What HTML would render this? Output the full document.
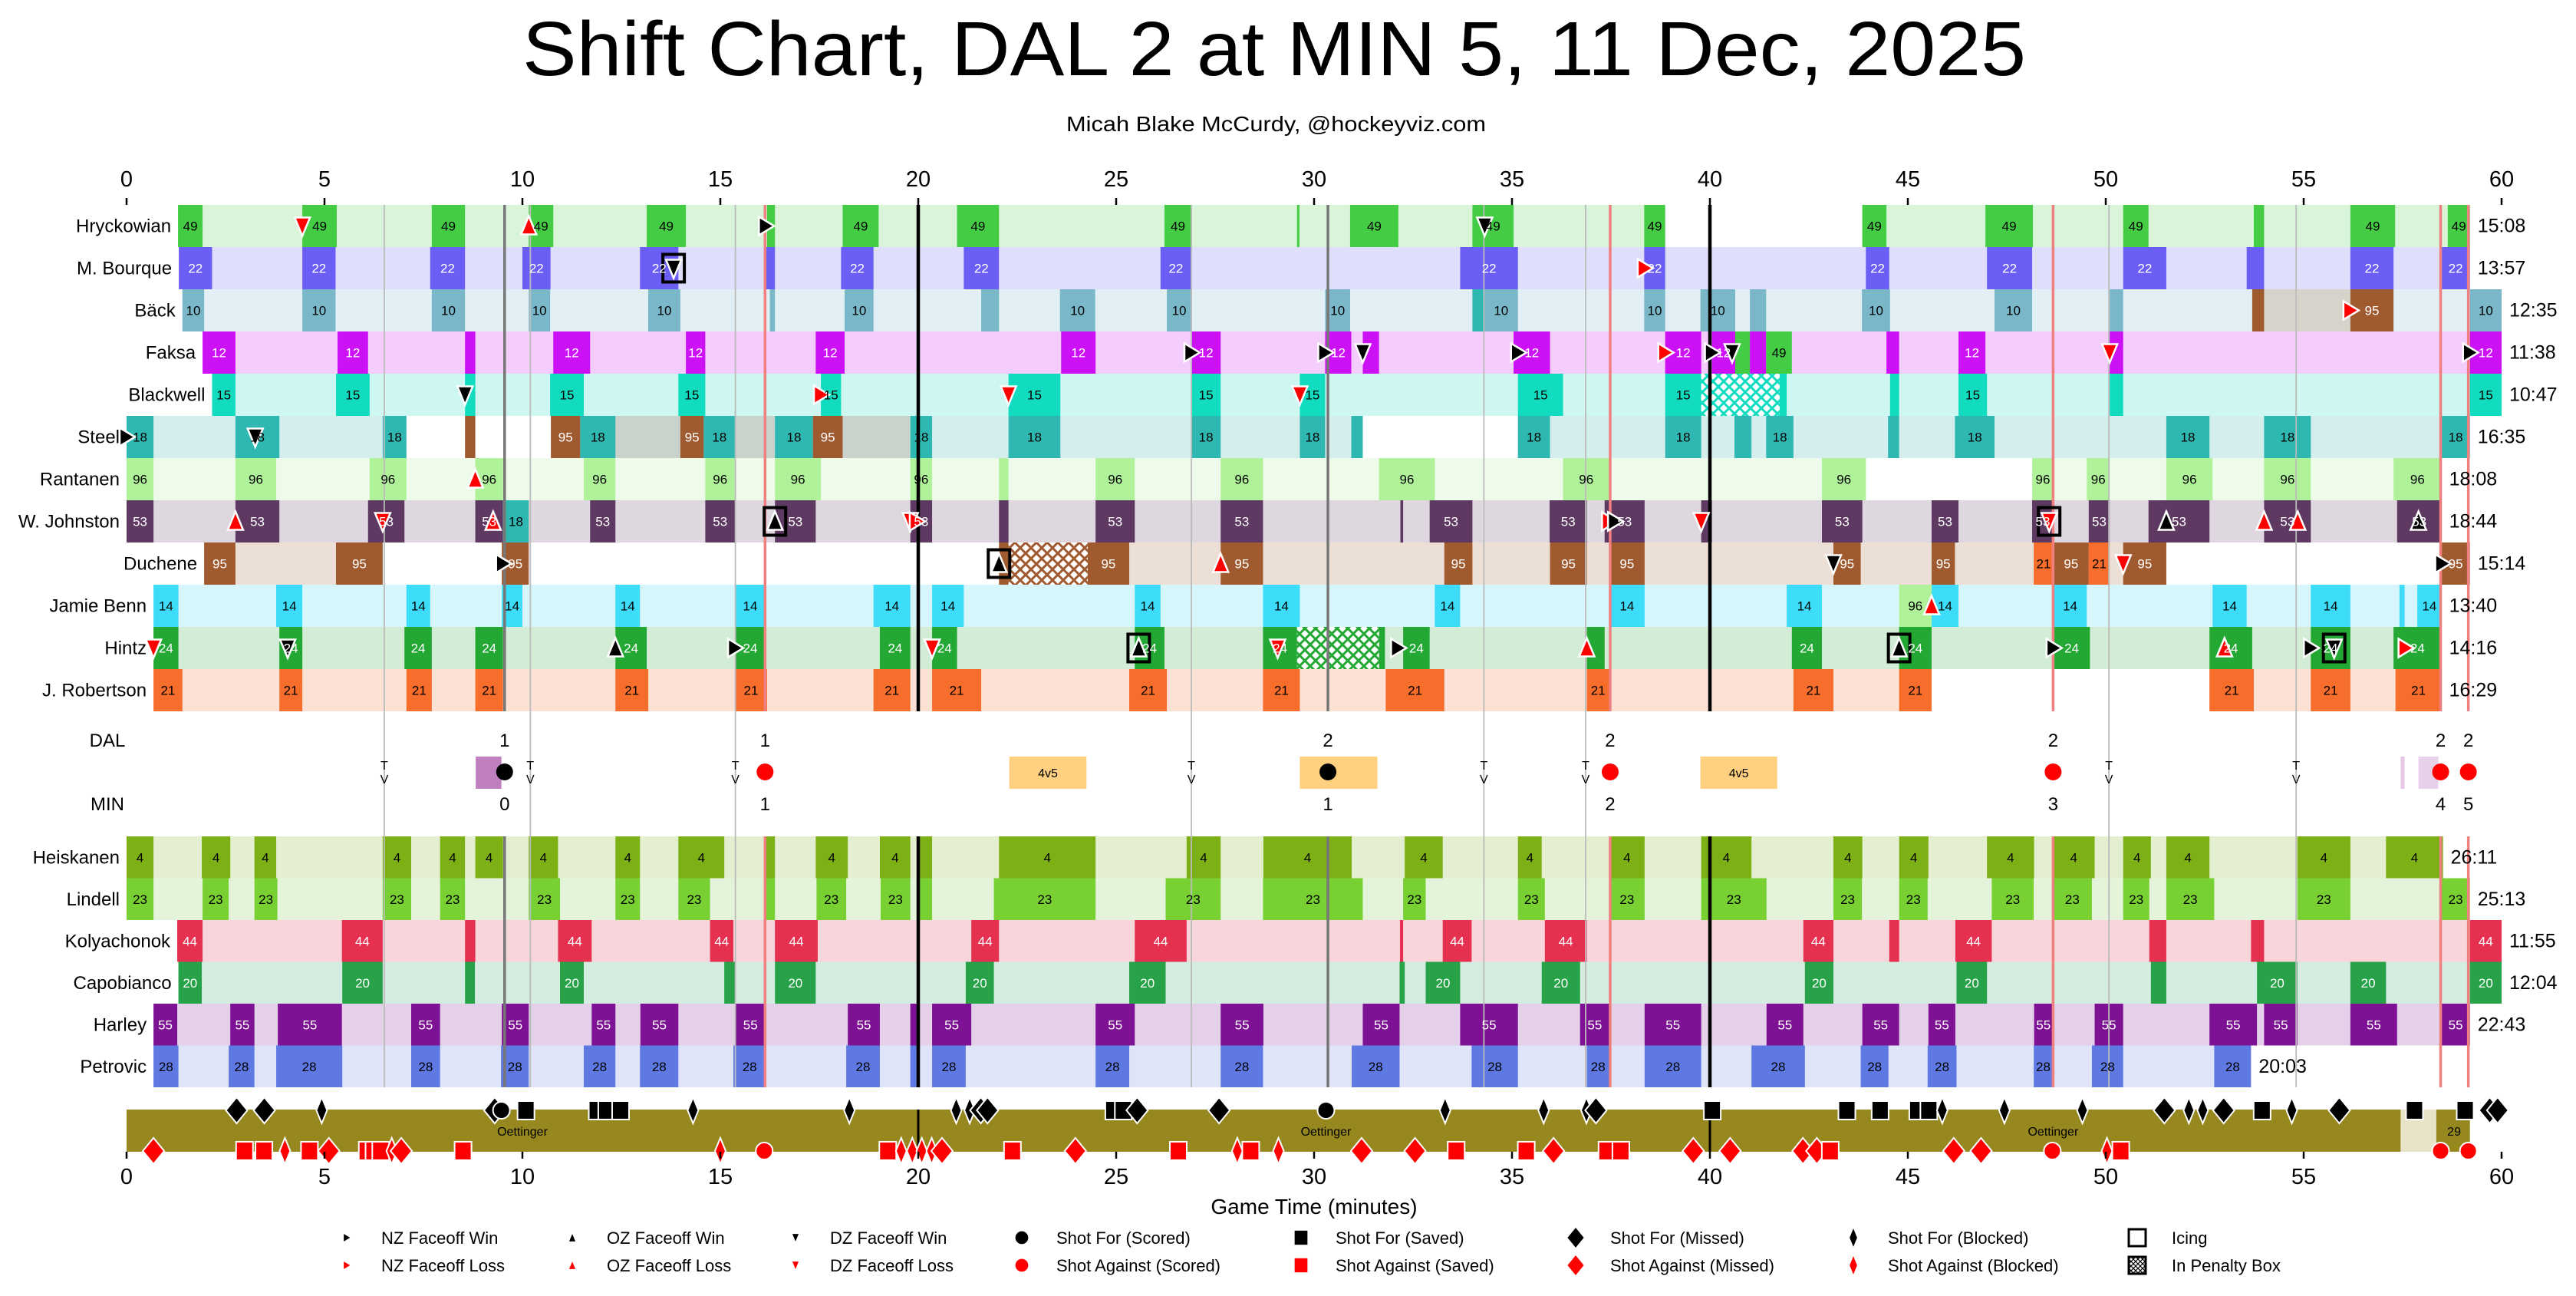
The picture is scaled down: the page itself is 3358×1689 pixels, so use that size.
<!DOCTYPE html>
<html><head><meta charset="utf-8"><style>
html,body{margin:0;padding:0;background:#fff}
svg{display:block;font-family:"Liberation Sans","DejaVu Sans",sans-serif}
</style></head><body>
<svg id="chart" xmlns="http://www.w3.org/2000/svg" width="3358" height="1689" viewBox="0 0 3358 1689">
<defs>
<pattern id="hatch95" patternUnits="userSpaceOnUse" width="14" height="14"><rect width="14" height="14" fill="#fff"/><path d="M0,0L14,14M14,0L0,14" stroke="#a05a30" stroke-width="3"/></pattern>
<pattern id="hatch15" patternUnits="userSpaceOnUse" width="14" height="14"><rect width="14" height="14" fill="#fff"/><path d="M0,0L14,14M14,0L0,14" stroke="#12dcc0" stroke-width="3"/></pattern>
<pattern id="hatch24" patternUnits="userSpaceOnUse" width="14" height="14"><rect width="14" height="14" fill="#fff"/><path d="M0,0L14,14M14,0L0,14" stroke="#22a833" stroke-width="3"/></pattern>
<pattern id="hatchK" patternUnits="userSpaceOnUse" width="6" height="6"><rect width="6" height="6" fill="#fff"/><path d="M0,0L6,6M6,0L0,6" stroke="#000" stroke-width="1.2"/></pattern>
</defs>
<text x="681" y="98" font-size="100" textLength="1960" lengthAdjust="spacingAndGlyphs">Shift Chart, DAL 2 at MIN 5, 11 Dec, 2025</text>
<text x="1390" y="171" font-size="28" textLength="547" lengthAdjust="spacingAndGlyphs">Micah Blake McCurdy, @hockeyviz.com</text>
<g id="g-bg"></g><g id="g-shift"></g><g id="g-lines"></g><g id="g-marks"></g><g id="g-text"></g><g id="g-legend"></g>
</svg>
<script>
const tickMinutes=[0,5,10,15,20,25,30,35,40,45,50,55,60];
const colorOf={49:["#44cc44","#d9f4d9","#000"],22:["#6a5ef5","#dfdefb","#fff"],10:["#7ab8c9","#e2eff4","#000"],12:["#cc11f5","#f4cdfc","#fff"],15:["#12dcc0","#cdf7f0","#000"],18:["#2fb8b2","#d4eeee","#000"],96:["#b0f29a","#eefaea","#000"],53:["#5e3a63","#dfd7df","#fff"],95:["#a05a30","#ecdfd6","#fff"],14:["#3ddcf8","#d6f6fc","#000"],24:["#22a833","#d3ecd5","#fff"],21:["#f76d2c","#fde1d5","#000"],4:["#7db015","#e4efd2","#000"],23:["#78d033","#e4f4da","#000"],44:["#e5304f","#f8d5db","#fff"],20:["#27a248","#d5ede0","#fff"],55:["#7d1394","#e5d0e9","#fff"],28:["#5f79e3","#dfe4f9","#000"]};
const dalNames=["Hryckowian","M. Bourque","Bäck","Faksa","Blackwell","Steel","Rantanen","W. Johnston","Duchene","Jamie Benn","Hintz","J. Robertson"];
const dalNumbers=[49,22,10,12,15,18,96,53,95,14,24,21];
const dalTOI=["15:08","13:57","12:35","11:38","10:47","16:35","18:08","18:44","15:14","13:40","14:16","16:29"];
const dalShifts=[
[[1.30,1.92],[4.44,5.31],[7.71,8.55],[10.16,10.78],[13.14,14.13],[16.18,16.38],[18.09,19.0],[20.98,22.04],[26.22,26.90],[29.57,29.63],[30.91,32.13],[34.0,35.04],[38.34,38.87],[43.85,44.46],[46.96,48.16],[50.44,51.08],[53.74,54.0],[56.18,57.31],[58.64,59.2]],
[[1.32,2.16],[4.44,5.28],[7.67,8.55],[10.0,10.71],[12.97,13.94],[16.14,16.38],[18.05,18.87],[21.15,22.04],[26.12,26.90],[33.69,35.15],[38.34,38.87],[43.94,44.53],[47.0,48.14],[50.44,51.53],[53.56,54.0],[56.18,57.27],[58.48,59.2]],
[[1.41,1.96],[4.44,5.28],[7.71,8.55],[10.16,10.70],[13.18,13.99],[16.25,16.38],[18.14,18.87],[21.59,22.04],[23.58,24.47],[26.28,26.90],[30.28,30.91],[34.0,34.30,18],[34.30,35.15],[38.34,38.87],[39.76,40.64],[41.01,41.42],[43.84,44.55],[47.19,48.14],[50.1,50.44],[53.7,54.0,95],[56.18,57.27,95],[59.2,60.0]],
[[1.92,2.75],[5.33,6.10],[8.55,8.81],[10.78,11.71],[14.13,14.62],[17.41,18.14],[23.61,24.48],[26.90,27.64],[30.28,30.94],[31.23,31.64],[35.04,35.96],[38.87,39.78],[40.05,40.64],[40.64,41.01,49],[41.01,41.42],[41.42,42.07,49],[44.46,44.78],[46.28,46.96],[50.1,50.44],[59.2,60.0]],
[[2.16,2.75],[5.29,6.14],[8.55,8.81],[10.70,11.55],[13.94,14.62],[17.54,18.05],[22.28,23.59],[26.90,27.64],[29.64,30.28],[35.15,36.29],[38.87,39.78],[41.76,41.94],[44.55,44.78],[46.28,47.0],[50.1,50.44],[59.2,60.0]],
[[0,0.68],[2.75,3.86],[6.47,7.07],[8.55,8.81,95],[10.72,11.46,95],[11.46,12.35],[13.99,14.58,95],[14.58,15.37],[16.38,17.34],[17.34,18.09,95],[19.8,20.35],[22.28,23.59],[26.90,27.64],[29.64,30.28],[30.94,31.23],[35.15,35.96],[38.87,39.78],[40.62,41.05],[41.42,42.11],[44.5,44.78],[46.19,47.19],[51.53,52.62],[54.0,55.18],[58.48,59.2]],
[[0,0.68],[2.75,3.78],[6.14,7.07],[8.81,9.51],[11.55,12.35],[14.62,15.37],[16.38,17.54],[19.8,20.35],[22.04,22.28],[24.48,25.47],[27.64,28.71],[31.64,33.05],[36.29,37.46],[42.83,43.94],[48.14,48.68],[49.52,50.1],[51.53,52.7],[54.0,55.18],[57.27,58.48]],
[[0,0.68],[2.75,3.86],[6.10,7.02],[8.81,9.51],[9.51,10.16,18],[11.71,12.35],[14.62,15.37],[16.38,17.41],[19.8,20.35],[22.04,22.28],[24.48,25.47],[27.64,28.71],[32.18,32.25],[32.92,34.0],[35.95,36.89],[37.34,38.35],[39.78,40.05],[42.83,43.85],[45.6,46.28],[48.14,48.68],[49.57,50.1],[51.08,52.62],[54.0,55.18],[57.36,58.48]],
[[1.96,2.75],[5.29,6.47],[9.48,10.16],[22.04,22.28],[24.28,25.33],[27.64,28.71],[33.29,34.0],[35.96,36.89],[37.46,38.35],[43.12,43.81],[45.6,46.19],[48.18,48.68,21],[48.68,49.57],[49.57,50.1,21],[50.44,51.53],[58.48,59.2]],
[[0.68,1.31],[3.78,4.44],[7.07,7.67],[9.48,10.0],[12.35,12.97],[15.37,16.14],[18.87,19.8],[20.35,21.15],[25.47,26.12],[28.71,29.64],[33.05,33.69],[37.46,38.35],[41.94,42.83],[44.78,45.6,96],[45.6,46.28],[48.68,49.52],[52.7,53.56],[55.18,56.18],[57.42,57.55],[57.87,58.48]],
[[0.68,1.31],[3.86,4.44],[7.02,7.71],[8.81,9.51],[12.35,13.14],[15.37,16.14],[19.03,19.8],[20.35,20.98],[25.47,26.22],[28.71,29.57],[31.64,31.79],[32.25,32.92],[36.89,37.34],[42.07,42.83],[44.78,45.6],[48.68,49.6],[52.62,53.7],[55.18,56.18],[57.27,58.48]],
[[0.68,1.41],[3.86,4.44],[7.07,7.71],[8.81,9.51],[12.35,13.18],[15.37,16.18],[18.87,19.8],[20.35,21.59],[25.33,26.28],[28.71,29.64],[31.81,33.29],[36.89,37.46],[42.11,43.12],[44.78,45.6],[52.62,53.74],[55.18,56.18],[57.32,58.48]]
];
const dalBg=[
[[1.3,38.87],[43.85,59.2]],[[1.32,59.2]],[[1.41,53.7],[53.7,57.27,"#d6d3cb"],[57.27,59.2]],[[1.92,59.2]],[[2.16,59.2]],
[[0,7.07],[10.72,19.8,"#c9d3cc"],[19.8,31.23],[35.15,59.2]],[[0,43.94],[48.14,58.48]],[[0,58.48]],[[1.96,6.47],[22.04,51.53]],
[[0.68,58.48]],[[0.68,58.48]],[[0.68,45.6],[52.62,58.48]]
];
const penaltyBoxRow=[4,8,10];
const penaltyBoxStart=[39.78,22.28,29.57];
const penaltyBoxEnd=[41.76,24.28,31.64];
const minNames=["Heiskanen","Lindell","Kolyachonok","Capobianco","Harley","Petrovic"];
const minNumbers=[4,23,44,20,55,28];
const minTOI=["26:11","25:13","11:55","12:04","22:43","20:03"];
const minShifts=[
[[0,0.68],[1.9,2.62],[3.23,3.78],[6.47,7.19],[7.92,8.55],[8.81,9.51],[10.16,10.90],[12.35,12.97],[13.94,15.1],[16.12,16.38],[17.41,18.22],[19.03,19.8],[20.0,20.35],[22.04,24.48],[26.78,27.64],[28.72,30.95],[32.29,33.25],[35.15,35.75],[37.46,38.35],[39.78,41.05],[43.12,43.85],[44.78,45.52],[47.0,48.19],[48.66,49.72],[50.44,51.14],[51.53,52.62],[54.84,56.18],[57.08,58.52]],
[[0,0.68],[1.92,2.58],[3.23,3.81],[6.47,7.19],[7.92,8.55],[10.16,10.95],[12.35,12.97],[13.94,14.74],[16.12,16.38],[17.43,18.18],[19.05,19.8],[20.0,20.35],[21.91,24.48],[26.25,27.64],[28.71,31.23],[32.25,32.82],[35.15,35.83],[37.46,38.35],[39.78,41.43],[43.12,43.84],[44.78,45.5],[47.12,48.18],[48.66,49.65],[50.44,51.1],[51.53,52.74],[54.84,56.18],[58.48,59.2]],
[[1.28,1.92],[5.44,6.47],[8.55,8.81],[10.9,11.75],[14.74,15.33],[16.38,17.46],[21.34,22.04],[25.47,26.78],[32.17,32.25],[33.25,33.98],[35.83,36.89],[42.36,43.12],[44.53,44.78],[46.2,47.12],[51.1,51.53],[53.67,54.0],[59.2,60.0]],
[[1.31,1.9],[5.45,6.47],[8.55,8.80],[10.95,11.55],[15.1,15.37],[16.38,17.41],[21.2,21.91],[25.33,26.25],[32.16,32.29],[32.82,33.69],[35.75,36.72],[42.4,43.12],[46.23,47.0],[51.14,51.53],[53.82,54.84],[56.18,57.08],[59.2,60.0]],
[[0.68,1.28],[2.62,3.23],[3.82,5.44],[7.19,7.92],[9.48,10.16],[11.75,12.35],[12.98,13.94],[15.37,16.15],[18.22,19.03],[19.8,20.0],[20.35,21.34],[24.48,25.47],[27.64,28.72],[31.23,32.16],[33.69,35.15],[36.72,37.46],[38.35,39.78],[41.43,42.36],[43.85,44.78],[45.52,46.2],[48.19,48.66],[49.72,50.44],[52.62,53.82],[54.0,54.84],[56.18,57.36],[58.48,59.2]],
[[0.68,1.31],[2.58,3.23],[3.78,5.45],[7.19,7.92],[9.46,10.16],[11.55,12.35],[12.97,13.94],[15.33,16.15],[18.18,19.03],[19.8,20.0],[20.35,21.2],[24.48,25.33],[27.64,28.71],[30.95,32.16],[33.98,35.15],[36.89,37.46],[38.35,39.78],[41.05,42.4],[43.81,44.51],[45.5,46.23],[48.18,48.66],[49.65,50.44],[52.74,53.67]]
];
const minBg=[[[0,58.52]],[[0,59.2]],[[1.28,59.2]],[[1.31,59.2]],[[0.68,59.2]],[[0.68,53.67]]];
const foMinute=[4.44,10.16,16.15,13.82,8.55,17.54,0,3.25,8.81,2.75,6.47,9.26,16.38,19.8,19.96,9.51,0.68,4.07,12.35,15.37,20.35,34.31,38.35,26.9,30.28,31.23,35.15,38.87,40.05,40.56,22.28,29.64,37.45,37.6,39.78,22.04,27.64,20.35,25.57,29.08,32.12,36.89,56.18,50.1,59.2,48.57,51.53,54.0,54.85,57.9,43.12,50.44,58.5,45.6,44.78,48.68,53.0,55.18,55.77,57.57];
const foRow=[0,0,0,1,4,4,5,5,6,7,7,7,7,7,7,8,10,10,10,10,10,0,1,3,3,3,3,3,3,3,4,4,7,7,7,8,8,10,10,10,10,10,2,3,3,7,7,7,7,7,8,8,8,9,10,10,10,10,10,10];
const foZone=["D","O","N","D","D","N","N","D","O","O","D","O","O","D","N","N","D","D","O","N","D","D","N","N","N","D","N","N","N","D","D","D","N","N","D","O","O","D","O","D","N","O","N","D","N","D","O","O","O","O","D","D","N","O","O","N","O","N","D","N"];
const foWin=[0,0,1,1,1,0,1,1,0,0,0,0,1,0,0,1,0,1,1,1,0,1,0,1,1,1,1,0,1,1,0,0,0,1,0,1,0,0,1,0,1,0,0,0,1,0,1,0,0,1,1,0,1,0,1,1,0,1,1,0];
const foIcing=[0,0,0,1,0,0,0,0,0,0,0,0,1,0,0,0,0,0,0,0,0,0,0,0,0,0,0,0,0,0,0,0,0,0,0,1,0,0,1,0,0,0,0,0,0,1,0,0,0,0,0,0,0,0,1,0,0,0,1,0];
const tvMinutes=[6.51,10.2,15.38,26.9,34.29,36.86,50.08,54.81];
const dalGoals=[9.55,30.35];
const minGoals=[16.13,37.48,48.67,58.46,59.16];
const scoreMinutes=[9.55,16.13,30.35,37.48,48.67,58.46,59.16];
const dalScores=["1","1","2","2","2","2","2"];
const minScores=["0","1","1","2","3","4","5"];
const penStart=[8.82,22.3,29.64,39.76,57.45,57.9];
const penEnd=[9.47,24.25,31.6,41.7,57.55,58.4];
const penColor=["#c080c0","#ffd080","#ffd080","#ffd080","#e6c8e6","#e6d0ea"];
const penLabel=["","4v5","","4v5","",""];
const shotForMin=[2.78,3.48,4.93,9.3,9.47,10.09,11.89,12.13,12.48,14.31,18.26,20.96,21.3,21.58,21.75,24.94,25.18,25.53,27.6,30.3,33.31,35.8,36.88,37.12,40.06,43.46,44.3,45.25,45.53,45.87,47.44,49.41,51.48,52.1,52.45,52.98,53.95,54.7,55.9,57.8,59.08,59.7,59.9];
const shotForType=["M","M","B","M","G","S","S","S","S","B","B","B","B","M","M","S","S","M","M","G","B","B","B","M","S","S","S","S","S","B","B","B","M","B","B","M","S","B","M","S","S","M","M"];
const shotAgMin=[0.68,2.98,3.47,4.0,4.62,5.11,6.08,6.25,6.42,6.7,6.94,8.5,15.0,16.11,19.23,19.57,19.85,20.09,20.34,20.6,22.38,23.97,26.57,28.06,28.4,29.1,31.2,32.55,33.59,35.36,36.05,37.4,37.75,39.58,40.51,42.35,42.7,43.04,46.16,46.85,48.65,50.03,50.38,58.46,59.16];
const shotAgType=["M","S","S","B","S","M","S","S","S","B","M","S","B","G","S","B","B","B","B","M","S","M","S","B","S","B","M","M","S","S","M","S","S","M","M","M","M","S","M","M","G","B","S","G","G"];
const goalieStart=[0,57.45,58.35];
const goalieEnd=[57.45,58.35,59.2];
const goalieColor=["#96881f","#e9e4c8","#96881f"];
const goalieLabelMin=[10,30.3,48.67,58.8];
const goalieLabelText=["Oettinger","Oettinger","Oettinger","29"];

const NS="http://www.w3.org/2000/svg";
const X=m=>165+m*51.6;
const dalTop=i=>267+i*55, DALH=55;
const minTop=i=>1090+i*54.5, MINH=54.5;
function mk(tag,attrs,parent,txt){const e=document.createElementNS(NS,tag);for(const k in attrs)e.setAttribute(k,attrs[k]);if(txt!==undefined)e.textContent=txt;document.getElementById(parent).appendChild(e);return e;}
// ticks
tickMinutes.forEach(t=>{
  let e=mk("line",{x1:X(t),x2:X(t),y1:258,y2:267,stroke:"#000","stroke-width":2.5},"g-text");
  
  
  e=mk("text",{x:X(t),y:243,"font-size":29,"text-anchor":"middle"},"g-text",String(t));
  
  
  e=mk("line",{x1:X(t),x2:X(t),y1:1501,y2:1510,stroke:"#000","stroke-width":2.5},"g-text");
  
  
  e=mk("text",{x:X(t),y:1543,"font-size":29,"text-anchor":"middle"},"g-text",String(t));
  
  
});
let ax=mk("text",{x:X(30),y:1582,"font-size":28,"text-anchor":"middle"},"g-text","Game Time (minutes)");



function drawRows(names,nums,tois,shifts,bgs,topF,H,team){
  names.forEach((nm,i)=>{
    const top=topF(i), cy=top+H/2, c=colorOf[nums[i]];
    let maxEnd=0;
    bgs[i].forEach(b=>{
      const r=mk("rect",{x:X(b[0]),y:top,width:X(b[1])-X(b[0]),height:H,fill:b[2]||c[1]},"g-bg");
      
      
      maxEnd=Math.max(maxEnd,b[1]);
    });
    shifts[i].forEach(s=>{
      const n=s[2]||nums[i], cc=colorOf[n], w=X(s[1])-X(s[0]);
      const r=mk("rect",{x:X(s[0]),y:top,width:w,height:H,fill:cc[0]},"g-shift");
      
      
      if(w>=24){const t=mk("text",{x:(X(s[0])+X(s[1]))/2,y:cy+6,"font-size":17,"text-anchor":"middle",fill:cc[2]},"g-text",String(n));
        
        }
      maxEnd=Math.max(maxEnd,s[1]);
    });
    const first=Math.min(shifts[i][0][0],bgs[i][0][0]);
    const nl=mk("text",{x:X(first)-9,y:cy+8,"font-size":24,"text-anchor":"end"},"g-text",nm);
    
    
    const tl=mk("text",{x:X(maxEnd)+10,y:cy+8,"font-size":25},"g-text",tois[i]);
    
    
  });
}
drawRows(dalNames,dalNumbers,dalTOI,dalShifts,dalBg,dalTop,DALH,"dal");
drawRows(minNames,minNumbers,minTOI,minShifts,minBg,minTop,MINH,"min");
penaltyBoxRow.forEach((r,i)=>{
  const e=mk("rect",{x:X(penaltyBoxStart[i]),y:dalTop(r),width:X(penaltyBoxEnd[i])-X(penaltyBoxStart[i]),height:DALH,fill:"url(#hatch"+dalNumbers[r]+")"},"g-shift");
  
  
});
// lines
function vline(m,y1,y2,col,w,name){const e=mk("line",{x1:X(m),x2:X(m),y1:y1,y2:y2,stroke:col,"stroke-width":w},"g-lines");
  
  }
tvMinutes.forEach(m=>vline(m,267,1417,"#bbbbbb",1.8,"tv-timeout-line"));
dalGoals.forEach(m=>{vline(m,267,927,"#777",3.5,"dal-goal-line");vline(m,1090,1417,"#777",3.5,"dal-goal-line");});
minGoals.forEach(m=>{vline(m,267,927,"#f08080",3.5,"min-goal-line");vline(m,1090,1417,"#f08080",3.5,"min-goal-line");});
[20,40].forEach(m=>{vline(m,267,927,"#000",4.5,"period-line");vline(m,1090,1417,"#000",4.5,"period-line");vline(m,1446,1501,"#000",3,"period-line");});
// penalty row
penStart.forEach((s,i)=>{
  const e=mk("rect",{x:X(s),y:986,width:X(penEnd[i])-X(s),height:42,fill:penColor[i]},"g-bg");
  
  
  if(penLabel[i]){const t=mk("text",{x:(X(s)+X(penEnd[i]))/2,y:1013,"font-size":16,"text-anchor":"middle"},"g-text",penLabel[i]);
    
    }
});
tvMinutes.forEach(m=>{
  const a=mk("text",{x:X(m),y:1003,"font-size":16,"text-anchor":"middle"},"g-text","T");
  
  
  const b=mk("text",{x:X(m),y:1021,"font-size":16,"text-anchor":"middle"},"g-text","V");
  
  
});
let tl=mk("text",{x:140,y:973,"font-size":24,"text-anchor":"middle"},"g-text","DAL");


tl=mk("text",{x:140,y:1056,"font-size":24,"text-anchor":"middle"},"g-text","MIN");


scoreMinutes.forEach((m,i)=>{
  const a=mk("text",{x:X(m),y:973,"font-size":24,"text-anchor":"middle"},"g-text",dalScores[i]);
  
  
  const b=mk("text",{x:X(m),y:1056,"font-size":24,"text-anchor":"middle"},"g-text",minScores[i]);
  
  
});
dalGoals.forEach(m=>{const c=mk("circle",{cx:X(m),cy:1006,r:11,fill:"#000"},"g-marks");
  
  });
minGoals.forEach(m=>{const c=mk("circle",{cx:X(m),cy:1006,r:11,fill:"#ff0000"},"g-marks");
  
  });
// goalie bar
goalieStart.forEach((s,i)=>{
  const e=mk("rect",{x:X(s),y:1446,width:X(goalieEnd[i])-X(s),height:55,fill:goalieColor[i]},"g-bg");
  
  
});
goalieLabelMin.forEach((m,i)=>{
  const t=mk("text",{x:X(m),y:1480,"font-size":16,"text-anchor":"middle"},"g-text",goalieLabelText[i]);
  
  
});
// markers
function tri(cx,cy,z,fill,s,name,inter){
  let p;
  if(z==="N")p=[[cx-9*s,cy-12*s],[cx+11*s,cy],[cx-9*s,cy+12*s]];
  else if(z==="O")p=[[cx-10*s,cy+11*s],[cx,cy-13*s],[cx+10*s,cy+11*s]];
  else p=[[cx-10*s,cy-11*s],[cx,cy+13*s],[cx+10*s,cy-11*s]];
  const e=mk("polygon",{points:p.map(q=>q.join(",")).join(" "),fill:fill,stroke:"#fff","stroke-width":2.5*s},"g-marks");
  
  
  return e;
}
function shot(cx,cy,t,fill,s,name,inter){
  let e;
  if(t==="G")e=mk("circle",{cx:cx,cy:cy,r:11*s,fill:fill,stroke:"#fff","stroke-width":2},"g-marks");
  else if(t==="S")e=mk("rect",{x:cx-11*s,y:cy-12*s,width:22*s,height:24*s,fill:fill,stroke:"#fff","stroke-width":2},"g-marks");
  else {const w=(t==="M"?14:7)*s,h=17*s;e=mk("polygon",{points:`${cx},${cy-h} ${cx+w},${cy} ${cx},${cy+h} ${cx-w},${cy}`,fill:fill,stroke:"#fff","stroke-width":2},"g-marks");}
  
  
  return e;
}
foMinute.forEach((m,i)=>{
  const cx=X(m), cy=dalTop(foRow[i])+DALH/2;
  if(foIcing[i]){const r=mk("rect",{x:cx-14,y:cy-18,width:28,height:36,fill:"none",stroke:"#000","stroke-width":4},"g-marks");
    
    }
  tri(cx,cy,foZone[i],foWin[i]?"#000":"#ff0000",1,"faceoff-marker","true");
});
shotForMin.forEach((m,i)=>shot(X(m),1447,shotForType[i],"#000",1,"shot-for-marker","true"));
shotAgMin.forEach((m,i)=>shot(X(m),1500,shotAgType[i],"#ff0000",1,"shot-against-marker","true"));
// legend
const legX=[452,746,1037,1332,1696,2054,2416,2786];
const legRow1=["NZ Faceoff Win","OZ Faceoff Win","DZ Faceoff Win","Shot For (Scored)","Shot For (Saved)","Shot For (Missed)","Shot For (Blocked)","Icing"];
const legRow2=["NZ Faceoff Loss","OZ Faceoff Loss","DZ Faceoff Loss","Shot Against (Scored)","Shot Against (Saved)","Shot Against (Missed)","Shot Against (Blocked)","In Penalty Box"];
[legRow1,legRow2].forEach((row,r)=>{
  const y=r?1649:1613, col=r?"#ff0000":"#000";
  row.forEach((lab,i)=>{
    const cx=legX[i];
    if(i<3)tri(cx,y,["N","O","D"][i],col,0.5,"legend-marker","false");
    else if(i<7)shot(cx,y,["G","S","M","B"][i-3],col,0.85,"legend-marker","false");
    else {const e=mk("rect",{x:cx-11,y:y-11,width:22,height:22,fill:r?"url(#hatchK)":"#fff",stroke:"#000","stroke-width":3},"g-legend");
      
      }
    const t=mk("text",{x:cx+45,y:y+8,"font-size":22},"g-legend",lab);
    
    
  });
});
</script>
</body></html>
